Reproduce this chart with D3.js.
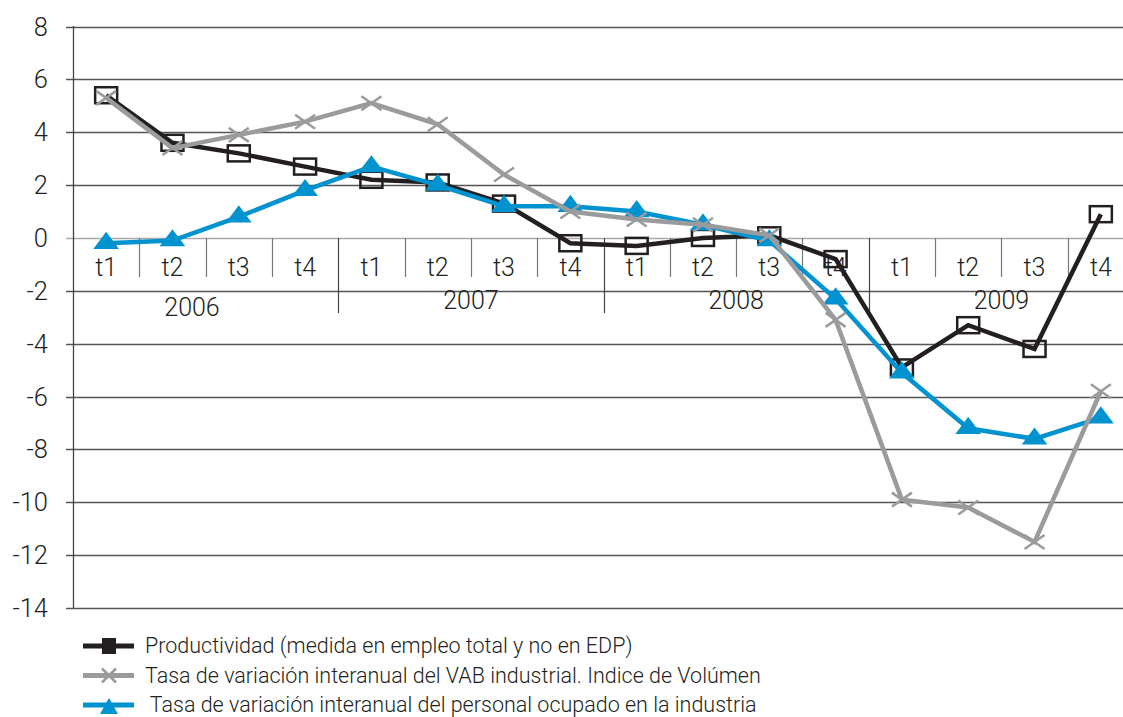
<!DOCTYPE html>
<html><head><meta charset="utf-8">
<script src="https://cdn.jsdelivr.net/npm/d3@7"></script>
<style>body{margin:0;background:#fff}svg{display:block}text{font-family:Roboto,"Liberation Sans",sans-serif;font-weight:300;fill:#231f20}</style>
</head><body><svg id="c" width="1123" height="717"></svg>
<script>
const years = ["2006","2007","2008","2009"];
const quarters = ["t1","t2","t3","t4"];
const yTicks = [8,6,4,2,0,-2,-4,-6,-8,-10,-12,-14];
const productividad = [5.4,3.6,3.2,2.7, 2.2,2.1,1.3,-0.2, -0.3,0.0,0.1,-0.8, -4.9,-3.3,-4.2,0.9];
const vab = [5.3,3.4,3.9,4.4, 5.1,4.3,2.4,1.0, 0.7,0.5,0.1,-3.1, -9.9,-10.2,-11.5,-5.8];
const personal = [-0.2,-0.1,0.8,1.8, 2.7,2.0,1.2,1.2, 1.0,0.5,-0.1,-2.3, -5.1,-7.2,-7.6,-6.8];
const legendLabels = ["Productividad (medida en empleo total y no en EDP)","Tasa de variación interanual del VAB industrial. Indice de Volúmen"," Tasa de variación interanual del personal ocupado en la industria"];

const cats = [];
years.forEach(y=>quarters.forEach(q=>cats.push(y+"-"+q)));
const svg = d3.select("#c");
const x = d3.scaleBand().domain(cats).range([73,1134]);
const y = d3.scaleLinear().domain([-14,8]).range([608,26.5]);
const cx = i => x(cats[i]) + x.bandwidth()/2;

// gridlines
svg.append("g").selectAll("line").data(yTicks).join("line")
  .attr("x1",66).attr("x2",1123).attr("y1",d=>Math.round(y(d))+0.5).attr("y2",d=>Math.round(y(d))+0.5)
  .attr("stroke",d=>d===0?"#aaa":"#555").attr("stroke-width",1.3);
// y axis labels
svg.append("g").selectAll("text").data(yTicks).join("text")
  .attr("x",48).attr("y",d=>y(d)+9).attr("text-anchor","end").attr("font-size",25.5).text(d=>d);
// y axis line
svg.append("line").attr("x1",73.5).attr("x2",73.5).attr("y1",26).attr("y2",608).attr("stroke","#444").attr("stroke-width",1.3);

// category separators
const y0 = y(0);
const seps = d3.range(1,16);
svg.append("g").selectAll("line").data(seps).join("line")
  .attr("x1",i=>Math.round(x(cats[i]))+0.5).attr("x2",i=>Math.round(x(cats[i]))+0.5)
  .attr("y1",y0).attr("y2",i=>i%4===0?313:277)
  .attr("stroke",i=>i%4===0?"#444":"#777").attr("stroke-width",1.2);
// quarter labels
svg.append("g").selectAll("text").data(cats).join("text")
  .attr("x",(d,i)=>cx(i)).attr("y",276).attr("text-anchor","middle").attr("font-size",25)
  .text(d=>d.split("-")[1]);
// year labels
svg.append("g").selectAll("text").data(years).join("text")
  .attr("x",(d,i)=>i===0?192:(x(d+"-t1")+x(d+"-t4")+x.bandwidth())/2)
  .attr("y",(d,i)=>i===0?316:309).attr("text-anchor","middle").attr("font-size",25).text(d=>d);

const line = d3.line().x((d,i)=>cx(i)).y(d=>y(d));
const BLACK="#231f20", GRAY="#9a9b9d", BLUE="#0093d0";

// black series
svg.append("path").datum(productividad).attr("d",line).attr("fill","none").attr("stroke",BLACK).attr("stroke-width",4.5).attr("stroke-linejoin","miter");
svg.append("g").selectAll("rect").data(productividad).join("rect")
  .attr("x",(d,i)=>cx(i)-11).attr("y",d=>y(d)-8).attr("width",22).attr("height",16)
  .attr("fill","none").attr("stroke",BLACK).attr("stroke-width",2.5);

// blue series
svg.append("path").datum(personal).attr("d",line).attr("fill","none").attr("stroke",BLUE).attr("stroke-width",4.5);
const tri = d3.symbol().type(d3.symbolTriangle).size(170);
svg.append("g").selectAll("path").data(personal).join("path")
  .attr("transform",(d,i)=>`translate(${cx(i)},${y(d)}) scale(1.3,1)`).attr("d",tri).attr("fill",BLUE);

// gray series
svg.append("path").datum(vab).attr("d",line).attr("fill","none").attr("stroke",GRAY).attr("stroke-width",4.5);
svg.append("g").selectAll("path").data(vab).join("path")
  .attr("transform",(d,i)=>`translate(${cx(i)},${y(d)})`)
  .attr("d","M-10,-7L10,7M-10,7L10,-7").attr("stroke",GRAY).attr("stroke-width",2.5).attr("fill","none");

// legend
const lg = svg.append("g");
const lrows = [
  {c:BLACK, m:"sq"},{c:GRAY, m:"x"},{c:BLUE, m:"tri"}
];
lrows.forEach((r,i)=>{
  const ly = 646 + i*29.5;
  lg.append("line").attr("x1",83).attr("x2",134).attr("y1",ly).attr("y2",ly).attr("stroke",r.c).attr("stroke-width",5);
  if(r.m==="sq") lg.append("rect").attr("x",102).attr("y",ly-8).attr("width",14).attr("height",16).attr("fill",r.c);
  if(r.m==="x") lg.append("path").attr("d",`M${102},${ly-7}L${116},${ly+7}M${102},${ly+7}L${116},${ly-7}`).attr("stroke",r.c).attr("stroke-width",2.5);
  if(r.m==="tri") lg.append("path").attr("d",`M${100},${ly+9}L${109},${ly-7}L${118},${ly+9}Z`).attr("fill",r.c);
  lg.append("text").attr("x",145).attr("y",ly+7).attr("font-size",21.5).attr("xml:space","preserve").text(legendLabels[i]);
});
</script></body></html>
